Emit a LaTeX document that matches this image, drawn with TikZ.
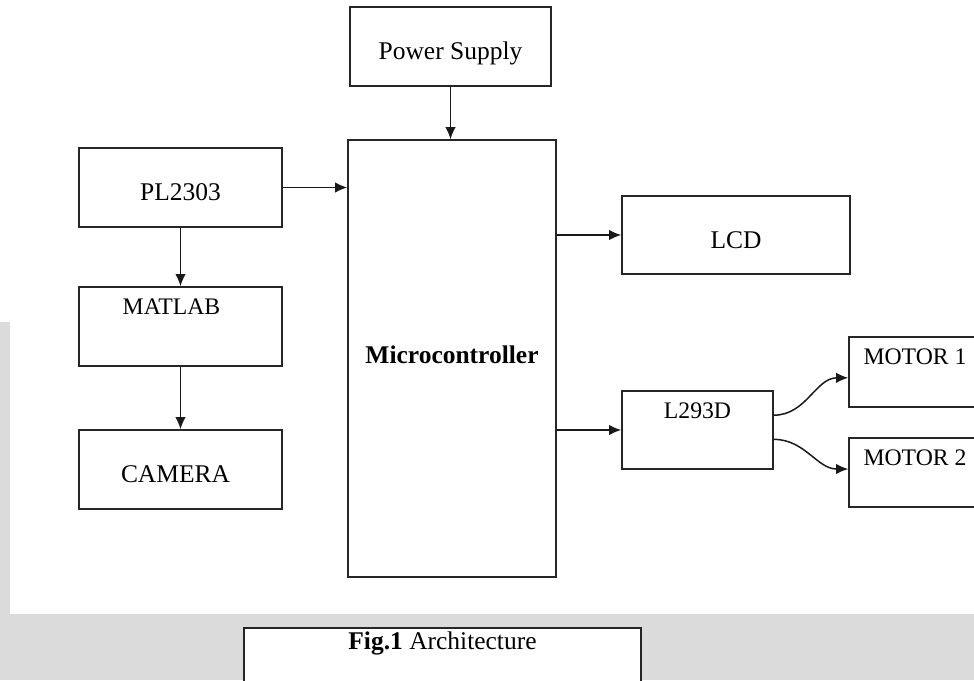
\documentclass[tikz,border=0pt]{standalone}
\usepackage{fontspec}
\setmainfont{Liberation Serif}
\usetikzlibrary{arrows.meta}

\begin{document}
\begin{tikzpicture}[
    x=0.02cm, y=-0.02cm,
    font=\fontsize{14.5}{17}\selectfont,
    box/.style={rectangle, draw=black!85, line width=0.8pt, fill=white, minimum height=1.58cm, text height=15pt, text depth=0pt},
    boxtext/.style={anchor=north, inner sep=0pt, yshift=-0.24cm, font=\fontsize{13.5}{16}\selectfont},
    arrow/.style={-{Latex[length=7pt, width=6pt]}, line width=0.85pt, draw=black!90}
  ]

    % Page area and watermark band
    \path[use as bounding box, clip] (0,0) rectangle (974,680);
    \fill[black!14] (0,614) rectangle (974,680);
    \fill[black!14] (0,322) rectangle (10,614);

    % Left column
    \node[box, minimum width=4.06cm] (pl) at (180.5,187.5) {PL2303};
    \node[box, minimum width=4.06cm, label={[boxtext, xshift=-0.18cm]north:MATLAB}] (matlab) at (180.5,326.5) {};
    \node[box, minimum width=4.06cm, text width=3.6cm, align=center] (camera) at (180.5,469.5) {\hspace*{-0.2cm}CAMERA};

    % Centre column
    \node[box, minimum width=4.02cm] (power) at (450.5,46.5) {Power Supply};
    \node[box, minimum width=4.16cm, minimum height=8.74cm, text height=5.4pt] (micro) at (452,358.5) {\textbf{Microcontroller}};

    % Right column
    \node[box, minimum width=4.56cm, minimum height=1.56cm] (lcd) at (736,235) {LCD};
    \node[box, minimum width=3.02cm, minimum height=1.56cm, label={[boxtext]north:L293D}] (driver) at (697.5,430) {};
    \node[box, minimum width=2.64cm, minimum height=1.4cm, label={[boxtext]north:MOTOR 1}] (motor1) at (915,372) {};
    \node[box, minimum width=2.64cm, minimum height=1.38cm, label={[boxtext]north:MOTOR 2}] (motor2) at (915,472.5) {};

    % Caption
    \node[box, minimum width=7.94cm, minimum height=1.84cm, label={[boxtext, yshift=0.16cm, font=\fontsize{14.5}{17}\selectfont]north:\textbf{Fig.1} Architecture}] (caption) at (442.5,674) {};

    % Arrows
    \draw[arrow] (power.south) -- (power.south |- micro.north);
    \draw[arrow] (pl.east) -- (micro.west |- pl.east);
    \draw[arrow] (pl) -- (matlab);
    \draw[arrow] (matlab) -- (camera);
    \draw[arrow] (micro.east |- lcd.west) -- (lcd.west);
    \draw[arrow] (micro.east |- driver.west) -- (driver.west);
    \draw[arrow] (driver.11) to[out=0, in=180] (motor1.185);
    \draw[arrow] (driver.-7) to[out=0, in=180] (motor2.177);

\end{tikzpicture}
\end{document}
